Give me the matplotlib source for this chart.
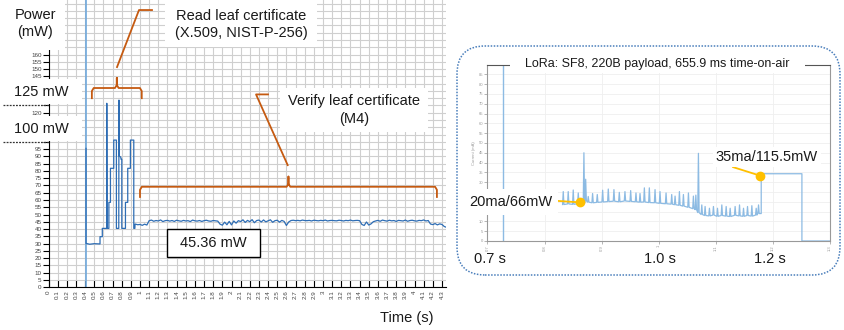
import numpy as np
import matplotlib
matplotlib.use("Agg")
from matplotlib import pyplot as plt
from matplotlib.patches import Rectangle, FancyBboxPatch

plt.rcParams['font.family'] = ['Liberation Sans', 'DejaVu Sans']

W, H = 844, 330
ORANGE = '#C55A11'
BLUE = '#2E6DB4'
CURSOR = '#6FA8DC'
LORA = '#8DBBE3'
GOLD = '#FFC000'

# ---- left chart: power draw (mW) ----
cursor_t = 0.41
read_t = [0.41, 0.41, 0.45, 0.50, 0.563, 0.563, 0.588, 0.588, 0.636, 0.637, 0.640,
          0.660, 0.660, 0.677, 0.677, 0.713, 0.713, 0.742, 0.742, 0.768, 0.770,
          0.773, 0.790, 0.793, 0.801, 0.801, 0.841, 0.841, 0.866, 0.866, 0.895,
          0.895, 0.932, 0.932, 0.944, 0.946, 0.975]
read_mw = [95.5, 30.2, 29.6, 30.0, 29.8, 34.8, 34.8, 40.5, 40.5, 126.5, 40.5,
           40.5, 58.4, 58.4, 81.8, 81.8, 101.2, 101.2, 40.5, 40.5, 128.7,
           90.2, 89.5, 88.0, 88.0, 40.5, 40.5, 58.4, 58.4, 81.8, 81.8,
           101.2, 101.2, 40.5, 40.5, 43.5, 43.0]

verify_t0 = 1.0
verify_dt = 0.025
verify_mw = [43.2, 42.6, 43.4, 42.8,
             45.8, 46.2, 45.4, 45.9, 45.6, 46.3, 45.2, 45.8, 46.0, 45.5, 45.9, 45.3, 46.1, 45.7, 45.4, 46.0,
             45.6, 45.8, 45.2, 46.2, 45.7, 45.5, 45.9, 45.3, 45.8, 46.1, 45.6, 45.4, 45.9, 45.7, 45.5,
             43.4, 42.7, 44.8, 43.0, 45.3, 42.9, 45.6, 44.1, 45.8,
             45.2, 46.4, 44.6, 46.0, 45.1, 46.5, 44.4, 45.9, 46.2, 44.9, 46.3, 45.0, 45.7, 46.4, 44.7,
             45.8, 46.1, 44.8, 46.0, 45.3,
             42.5, 44.9,
             45.9, 46.1, 45.8, 46.0, 45.7, 46.2, 45.9, 45.8, 46.0, 45.6, 46.1, 45.9, 45.7, 46.0, 45.8,
             46.2, 45.6, 45.9, 46.0, 45.8, 45.7, 46.1, 45.9, 45.6, 46.0, 45.8, 46.2, 45.7, 45.9, 46.0, 45.8,
             43.2, 42.5, 44.9, 42.8, 43.6, 45.1,
             45.6, 46.0, 45.4, 46.2, 45.8, 45.5, 46.1, 45.7, 45.9, 45.3, 46.0, 45.8, 45.6, 46.2, 45.4,
             45.9, 46.1, 45.7, 45.5, 46.0, 45.8, 46.3, 45.6, 45.9,
             43.5, 43.1, 43.8, 42.9, 43.6, 43.2, 41.8, 41.2]
avg_label = '45.36 mW'
ref_levels = [125, 100]

# ---- right chart: LoRa transmission current (mA) ----
wake_t = 0.7274
lora_a_t = [0.8327, 0.8414, 0.8502, 0.8590, 0.8689, 0.8720, 0.8765, 0.8841, 0.8923, 0.9017,
            0.9116, 0.9215, 0.9309, 0.9408, 0.9508, 0.9601, 0.9672, 0.9748, 0.9835, 0.9935,
            1.0022, 1.0128, 1.0227, 1.0286, 1.0362, 1.0432, 1.0520, 1.0607, 1.0650, 1.0695]
lora_a_peak = [25.2, 25.2, 26.0, 24.5, 45.0, 31.5, 22.7, 24.2, 23.7, 25.9,
               26.5, 26.2, 24.8, 25.2, 25.7, 24.5, 24.2, 27.1, 27.1, 26.2,
               25.2, 24.5, 23.7, 22.9, 25.2, 23.7, 24.5, 22.9, 23.4, 44.7]
lora_a_base = [18.6, 18.9, 18.7, 19.0, 19.3, 20.5, 19.8, 19.5, 19.7, 19.9,
               20.1, 20.3, 20.0, 20.4, 20.2, 20.0, 19.8, 19.9, 19.6, 19.5,
               19.2, 19.0, 18.8, 18.5, 18.2, 17.8, 17.2, 16.5, 16.0, 14.5]
lora_b_t = [1.0754, 1.0812, 1.0888, 1.0958, 1.1029, 1.1105, 1.1181, 1.1251,
            1.1338, 1.1415, 1.1485, 1.1555, 1.1631, 1.1707, 1.1748]
lora_b_peak = [18.4, 17.6, 16.7, 17.6, 16.7, 18.4, 17.6, 16.7,
               17.6, 18.4, 16.7, 17.6, 18.0, 16.7, 18.4]
lora_b_base = [13.5, 13.0, 12.8, 13.2, 12.6, 13.0, 12.7, 12.5,
               13.1, 12.8, 12.6, 13.0, 12.7, 13.2, 14.0]
tx_start, tx_end, tx_ma = 1.1795, 1.2508, 34.3
dot_rx = (0.862, 19.7)
dot_tx = (1.1777, 33.3)


def fx(px):
    return px / W


def fy(py):
    return 1 - py / H


def spiky(ts, peaks, bases, hw=0.0012):
    xs, ys = [], []
    for t, p, b in zip(ts, peaks, bases):
        xs += [t - hw, t, t + hw]
        ys += [b, p, b]
    return xs, ys


def brace(ax, x0, x1, y, c=0.02, drop=7, tip=7):
    xm = (x0 + x1) / 2
    xs = [x0, x0, x0 + c, xm - c, xm, xm, xm, xm + c, x1 - c, x1, x1]
    ys = [y - drop, y - drop * 0.3, y, y, y + tip * 0.3, y + tip, y + tip * 0.3, y, y, y - drop * 0.3, y - drop]
    ax.plot(xs, ys, color=ORANGE, lw=1.3, clip_on=False, zorder=4)


fig = plt.figure(figsize=(W / 100, H / 100), dpi=100)

# ---------------- left chart ----------------
ax = fig.add_axes([fx(48.5), fy(287.3), 4.34 * 91.5 / W, 287.3 / H])
ax.set_xlim(0, 4.34)
ax.set_ylim(0, 197.5)
xt = np.round(np.arange(0, 4.31, 0.1), 1)
ax.set_xticks(xt)
ax.set_xticklabels(['%g' % v for v in xt], rotation=90, fontsize=4.5, color='#444444')
yt = np.arange(0, 200, 5)
ax.set_yticks(yt)
# labels that sit under the white "125 mW" / "100 mW" boxes are left blank
hidden = (100, 105, 110, 115, 125, 130, 135, 140)
ax.set_yticklabels([str(v) if v <= 160 and v not in hidden else '' for v in yt],
                   fontsize=4.5, color='#444444')
ax.grid(True, color='#cfcfcf', lw=0.8)
ax.set_axisbelow(True)
for s in ['top', 'right']:
    ax.spines[s].set_visible(False)
ax.spines['left'].set_linewidth(0.8)
ax.spines['bottom'].set_linewidth(0.8)
ax.tick_params(axis='x', direction='in', length=5, width=0.8, pad=2)
ax.tick_params(axis='y', direction='out', length=4, width=0.8, pad=1)

verify_t = verify_t0 + verify_dt * np.arange(len(verify_mw))
trace_t = np.concatenate([read_t, verify_t])
trace_mw = np.concatenate([read_mw, verify_mw])
ax.axvline(cursor_t, color=CURSOR, lw=1.2, zorder=2)
ax.plot(trace_t, trace_mw, color=BLUE, lw=0.9, zorder=3)

for lvl in ref_levels:
    ax.plot([-0.5, 0], [lvl, lvl], color='#333333', lw=0.9, ls=(0, (1.5, 1)), clip_on=False)

# braces and leaders
brace(ax, 0.474, 1.019, 137)
ax.plot([0.749, 0.989, 1.131], [151.4, 190.6, 190.6], color=ORANGE, lw=1.3, clip_on=False)
brace(ax, 1.0, 4.245, 69.1)
ax.plot([2.614, 2.268, 2.399], [84, 132.6, 132.6], color=ORANGE, lw=1.3, clip_on=False)

# white label boxes over the chart
for (x0, y0, x1, y1) in [(0, 0, 65, 50), (0, 79, 82, 104), (0, 116, 82, 141),
                         (165, 0, 317, 47), (280, 88, 428, 132)]:
    fig.add_artist(Rectangle((fx(x0), fy(y1)), fx(x1 - x0), (y1 - y0) / H,
                             transform=fig.transFigure, fc='white', ec='none', zorder=5))
fig.add_artist(Rectangle((fx(167), fy(257)), fx(93), 28 / H, transform=fig.transFigure,
                         fc='white', ec='black', lw=1, zorder=5))

tk = dict(ha='center', va='center', fontsize=10.5, color='#1a1a1a', zorder=6)
fig.text(fx(35), fy(15), 'Power', **tk)
fig.text(fx(35), fy(32), '(mW)', **tk)
fig.text(fx(41), fy(92.5), '125 mW', **tk)
fig.text(fx(41), fy(129.5), '100 mW', **tk)
fig.text(fx(241), fy(16), 'Read leaf certificate', **tk)
fig.text(fx(241), fy(33.5), '(X.509, NIST-P-256)', **tk)
fig.text(fx(354), fy(100.5), 'Verify leaf certificate', **tk)
fig.text(fx(354), fy(118.5), '(M4)', **tk)
fig.text(fx(213.5), fy(243), avg_label, **tk)
fig.text(fx(407), fy(318), 'Time (s)', **tk)

# ---------------- right chart ----------------
ax2 = fig.add_axes([fx(487.5), fy(241), 342.5 / W, 176.5 / H])
ax2.set_xlim(0.7, 1.3)
ax2.set_ylim(0, 90)
xt2 = np.round(np.arange(0.7, 1.31, 0.1), 1)
ax2.set_xticks(xt2)
ax2.set_xticklabels(['%g' % v for v in xt2], rotation=90, fontsize=3, color='#999999')
yt2 = np.arange(0, 90, 5)
ax2.set_yticks(yt2)
# the 20ma label box covers the 15-25 tick labels
ax2.set_yticklabels(['' if v in (15, 20, 25) else str(v) for v in yt2])
ax2.tick_params(axis='y', labelsize=3, labelcolor='#999999', length=2, width=0.5, pad=1, color='#999999')
ax2.tick_params(axis='x', length=2, width=0.5, pad=1, color='#999999')
ax2.set_ylabel('Current (mA)', fontsize=3, color='#999999', labelpad=2)
ax2.grid(True, color='#efefef', lw=0.6)
ax2.set_axisbelow(True)
for s in ax2.spines.values():
    s.set_color('#999999')
    s.set_linewidth(0.8)
ax2.spines['top'].set_color('#555555')

ax2.plot([wake_t, wake_t], [0, 100], color=LORA, lw=1.0)
xa, ya = spiky(lora_a_t, lora_a_peak, lora_a_base)
xb, yb = spiky(lora_b_t, lora_b_peak, lora_b_base)
lora_t = xa + xb + [tx_start, tx_start, tx_end, tx_end, 1.30]
lora_ma = ya + yb + [lora_b_base[-1], tx_ma, tx_ma, 0, 0]
ax2.plot(lora_t, lora_ma, color=LORA, lw=0.9)

ax2.plot([dot_rx[0], dot_tx[0]], [dot_rx[1], dot_tx[1]], 'o', color=GOLD, ms=6, zorder=6)
ax2.annotate('20ma/66mW', xy=dot_rx, xytext=(0.741, 19.9), ha='center', va='center',
             fontsize=10.5, color='#1a1a1a', zorder=5, annotation_clip=False,
             bbox=dict(fc='white', ec='none', pad=4),
             arrowprops=dict(arrowstyle='-', color=GOLD, lw=1.3, relpos=(1, 0.6),
                             shrinkA=0, shrinkB=0))
ax2.annotate('35ma/115.5mW', xy=dot_tx, xytext=(1.1895, 42.7), ha='center', va='center',
             fontsize=10.5, color='#1a1a1a', zorder=5, annotation_clip=False,
             bbox=dict(fc='white', ec='none', pad=2),
             arrowprops=dict(arrowstyle='-', color=GOLD, lw=1.3, relpos=(0.08, 0),
                             shrinkA=0, shrinkB=0))

fig.add_artist(Rectangle((fx(510), fy(73)), fx(295), 18 / H, transform=fig.transFigure,
                         fc='white', ec='none', zorder=5))
fig.text(fx(657.5), fy(63.5), 'LoRa: SF8, 220B payload, 655.9 ms time-on-air',
         ha='center', va='center', fontsize=9, color='#1a1a1a', zorder=6)
fig.text(fx(490), fy(259), '0.7 s', **tk)
fig.text(fx(660), fy(259), '1.0 s', **tk)
fig.text(fx(770), fy(259), '1.2 s', **tk)

fig.add_artist(FancyBboxPatch((457, H - 275), 383, 229, boxstyle='round,pad=0,rounding_size=28',
                              transform=None, fill=False, ec='#4A7EBB', lw=1.1, ls=(0, (1, 1))))

fig.savefig('out.png', dpi=100)
